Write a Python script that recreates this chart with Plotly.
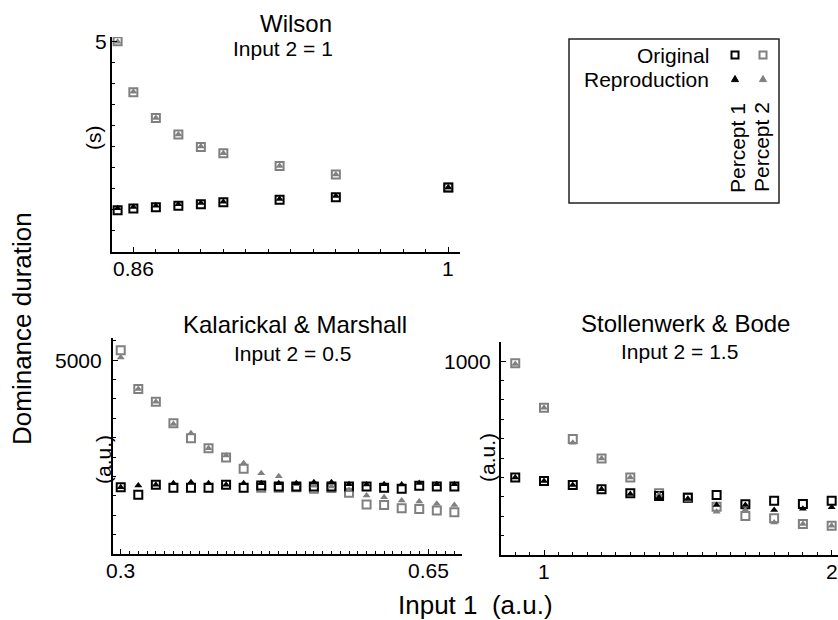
import plotly.graph_objects as go

W, H = 838, 620
FONT = "Liberation Sans, Arial, Helvetica, sans-serif"
BLACK = "#000000"
GRAY = "#808080"

# ---------------- data ----------------
# Wilson (Input 2 = 1)
wil_x = [0.853, 0.86, 0.87, 0.88, 0.89, 0.90, 0.925, 0.95, 1.0]
wil_p1_orig = [0.99, 1.03, 1.06, 1.10, 1.13, 1.18, 1.24, 1.30, 1.53]
wil_p1_repr = [1.04, 1.07, 1.10, 1.13, 1.16, 1.19, 1.26, 1.33, 1.53]
wil_p2_orig = [5.0, 3.79, 3.18, 2.79, 2.49, 2.34, 2.04, 1.84, 1.53]
wil_p2_repr = [4.99, 3.80, 3.18, 2.79, 2.50, 2.34, 2.04, 1.84, 1.53]

# Kalarickal & Marshall (Input 2 = 0.5)
kal_x = [0.30, 0.32, 0.34, 0.36, 0.38, 0.40, 0.42, 0.44, 0.46, 0.48,
         0.50, 0.52, 0.54, 0.56, 0.58, 0.60, 0.62, 0.64, 0.66, 0.68]
kal_p1_orig = [1722, 1525, 1784, 1707, 1707, 1707, 1784, 1707, 1766, 1741,
               1741, 1741, 1741, 1741, 1741, 1707, 1681, 1760, 1741, 1741]
kal_p1_repr = [1722, 1766, 1784, 1826, 1852, 1826, 1784, 1826, 1826, 1826,
               1826, 1852, 1852, 1800, 1790, 1800, 1790, 1830, 1800, 1800]
kal_p2_orig = [5257, 4254, 3928, 3371, 2985, 2727, 2487, 2196, 1707, 1707,
               1724, 1681, 1700, 1577, 1275, 1266, 1180, 1163, 1120, 1077]
kal_p2_repr = [5069, 4254, 3928, 3350, 3113, 2727, 2539, 2341, 2084, 2007,
               1800, 1760, 1740, 1650, 1508, 1464, 1378, 1355, 1293, 1266]

# Stollenwerk & Bode (Input 2 = 1.5)
sto_x = [0.9, 1.0, 1.1, 1.2, 1.3, 1.4, 1.5, 1.6, 1.7, 1.8, 1.9, 2.0]
sto_p1_orig = [400, 381, 361, 339, 318, 304, 295, 309, 261, 280, 263, 280]
sto_p1_repr = [400, 381, 361, 339, 314, 297, 290, 258, 258, 232, 238, 246]
sto_p2_orig = [988, 759, 598, 498, 400, 318, 297, 249, 201, 189, 160, 151]
sto_p2_repr = [985, 759, 579, 498, 400, 312, 283, 223, 232, 167, 160, 151]

panel_titles = ["Wilson", "Kalarickal & Marshall", "Stollenwerk & Bode"]
panel_subtitles = ["Input 2 = 1", "Input 2 = 0.5", "Input 2 = 1.5"]
y_units = ["(s)", "(a.u.)", "(a.u.)"]
x_tick_vals = [[0.86, 1.0], [0.3, 0.65], [1.0, 2.0]]
x_tick_text = [["0.86", "1"], ["0.3", "0.65"], ["1", "2"]]
y_tick_vals = [[5], [5000], [1000]]
y_tick_text = [["5"], ["5000"], ["1000"]]

fig = go.Figure()

panels = [
    ("x", "y", wil_x, wil_p1_orig, wil_p1_repr, wil_p2_orig, wil_p2_repr),
    ("x2", "y2", kal_x, kal_p1_orig, kal_p1_repr, kal_p2_orig, kal_p2_repr),
    ("x3", "y3", sto_x, sto_p1_orig, sto_p1_repr, sto_p2_orig, sto_p2_repr),
]

SQ_SIZE = 8
TRI_SIZE = 7
for xa, ya, xs, p1o, p1r, p2o, p2r in panels:
    fig.add_trace(go.Scatter(x=xs, y=p2o, mode="markers", xaxis=xa, yaxis=ya,
                             marker=dict(symbol="square-open", size=SQ_SIZE, color=GRAY,
                                         line=dict(width=2, color=GRAY))))
    fig.add_trace(go.Scatter(x=xs, y=p1o, mode="markers", xaxis=xa, yaxis=ya,
                             marker=dict(symbol="square-open", size=SQ_SIZE, color=BLACK,
                                         line=dict(width=2, color=BLACK))))
    fig.add_trace(go.Scatter(x=xs, y=p2r, mode="markers", xaxis=xa, yaxis=ya,
                             marker=dict(symbol="triangle-up", size=TRI_SIZE, color=GRAY,
                                         line=dict(width=0))))
    fig.add_trace(go.Scatter(x=xs, y=p1r, mode="markers", xaxis=xa, yaxis=ya,
                             marker=dict(symbol="triangle-up", size=TRI_SIZE, color=BLACK,
                                         line=dict(width=0))))


def px_x(p):
    return p / W


def px_y(p):
    return 1 - p / H


def axis(domain, rng, tv, minor_dtick, minor_tick0=0):
    return dict(domain=domain, range=rng, showgrid=False, zeroline=False,
                showline=True, linecolor=BLACK, linewidth=1.5,
                ticks="inside", ticklen=5, tickwidth=1, tickcolor=BLACK,
                tickmode="array", tickvals=tv, showticklabels=False,
                minor=dict(ticks="inside", ticklen=3, tickwidth=1, tickcolor=BLACK,
                           dtick=minor_dtick, tick0=minor_tick0, showgrid=False),
                fixedrange=True)


layout = dict(
    width=W, height=H, margin=dict(l=0, r=0, t=0, b=0),
    paper_bgcolor="white", plot_bgcolor="white", showlegend=False,
    font=dict(family=FONT, color=BLACK),
)

# pixel frames of the three panels: (left, right, top, bottom)
frames = [(112, 460, 37, 252), (113, 462, 338, 554), (501, W, 342, 555)]
x_ranges = [[0.8505, 1.0052], [0.2912, 0.6887], [0.8505, 2.022]]
y_ranges = [[0, 5.1], [0, 5570], [0, 1098]]
x_minor = [0.01, 0.01, 0.05]
y_minor = [0.5, 500, 100]

for i in range(3):
    l, r, t, b = frames[i]
    xk = "xaxis" if i == 0 else f"xaxis{i+1}"
    yk = "yaxis" if i == 0 else f"yaxis{i+1}"
    xa = axis([px_x(l), px_x(r)], x_ranges[i], x_tick_vals[i], x_minor[i])
    ya = axis([px_y(b), px_y(t)], y_ranges[i], y_tick_vals[i], y_minor[i])
    xa["anchor"] = "y" if i == 0 else f"y{i+1}"
    ya["anchor"] = "x" if i == 0 else f"x{i+1}"
    layout[xk] = xa
    layout[yk] = ya

fig.update_layout(**layout)

ann = []


def text(x, y, s, size, angle=0, xanchor="center", yanchor="middle"):
    ann.append(dict(x=px_x(x), y=px_y(y), xref="paper", yref="paper", text=s,
                    showarrow=False, textangle=angle, xanchor=xanchor, yanchor=yanchor,
                    font=dict(family=FONT, size=size, color=BLACK)))


# tick labels, placed through each panel's own axis scale
y_gap = [3, 9, 8]
for i in range(3):
    l, r, t, b = frames[i]
    xref = "x" if i == 0 else f"x{i+1}"
    yref = "y" if i == 0 else f"y{i+1}"
    for v, s in zip(x_tick_vals[i], x_tick_text[i]):
        ann.append(dict(x=v, xref=xref, y=px_y(b + 16), yref="paper", text=s,
                        showarrow=False, xanchor="center", yanchor="middle",
                        font=dict(family=FONT, size=21, color=BLACK)))
    for v, s in zip(y_tick_vals[i], y_tick_text[i]):
        ann.append(dict(x=px_x(l - y_gap[i]), xref="paper", y=v, yref=yref, text=s,
                        showarrow=False, xanchor="right", yanchor="middle",
                        font=dict(family=FONT, size=21, color=BLACK)))

# panel titles
text(296, 24, panel_titles[0], 24)
text(283, 49, panel_subtitles[0], 21)
text(295, 324, panel_titles[1], 24)
text(292, 353, panel_subtitles[1], 21)
text(685, 323, panel_titles[2], 24)
text(679, 351, panel_subtitles[2], 21)

# unit labels
text(93, 138, y_units[0], 21, angle=-90)
text(103, 460, y_units[1], 21, angle=-90)
text(487, 458, y_units[2], 21, angle=-90)

# global axis titles
text(22, 329, "Dominance duration", 26, angle=-90)
text(475, 605, "Input 1  (a.u.)", 26)

# legend
text(711, 55, "Original", 21, xanchor="right")
text(711, 79, "Reproduction", 21, xanchor="right")
text(737, 148, "Percept 1", 21, angle=-90)
text(762, 147, "Percept 2", 21, angle=-90)

fig.update_layout(annotations=ann)

shapes = [dict(type="rect", xref="paper", yref="paper",
               x0=px_x(569), x1=px_x(779), y0=px_y(203), y1=px_y(39),
               line=dict(color="#222222", width=1.5), fillcolor="rgba(0,0,0,0)")]


def sq_shape(cx, cy, color):
    h = 3.5
    return dict(type="rect", xref="paper", yref="paper",
                x0=px_x(cx - h), x1=px_x(cx + h), y0=px_y(cy + h), y1=px_y(cy - h),
                line=dict(color=color, width=2), fillcolor="rgba(0,0,0,0)")


def tri_shape(cx, cy, color):
    h = 3.5
    pts = [(cx, cy - h), (cx + h, cy + h * 0.75), (cx - h, cy + h * 0.75)]
    path = "M " + " L ".join(f"{px_x(a):.5f},{px_y(b):.5f}" for a, b in pts) + " Z"
    return dict(type="path", xref="paper", yref="paper", path=path,
                line=dict(color=color, width=1), fillcolor=color)


shapes += [sq_shape(735, 55, BLACK), sq_shape(763, 55, GRAY),
           tri_shape(735, 79, BLACK), tri_shape(763, 79, GRAY)]
fig.update_layout(shapes=shapes)

post = (
    "document.documentElement.style.margin='0';"
    "document.body.style.margin='0';document.body.style.overflow='hidden';"
    "var gd=document.querySelector('.plotly-graph-div');"
    "gd.style.position='fixed';gd.style.left='0px';gd.style.top='0px';"
)
fig.write_html("out.html", config={"displayModeBar": False}, post_script=post)
